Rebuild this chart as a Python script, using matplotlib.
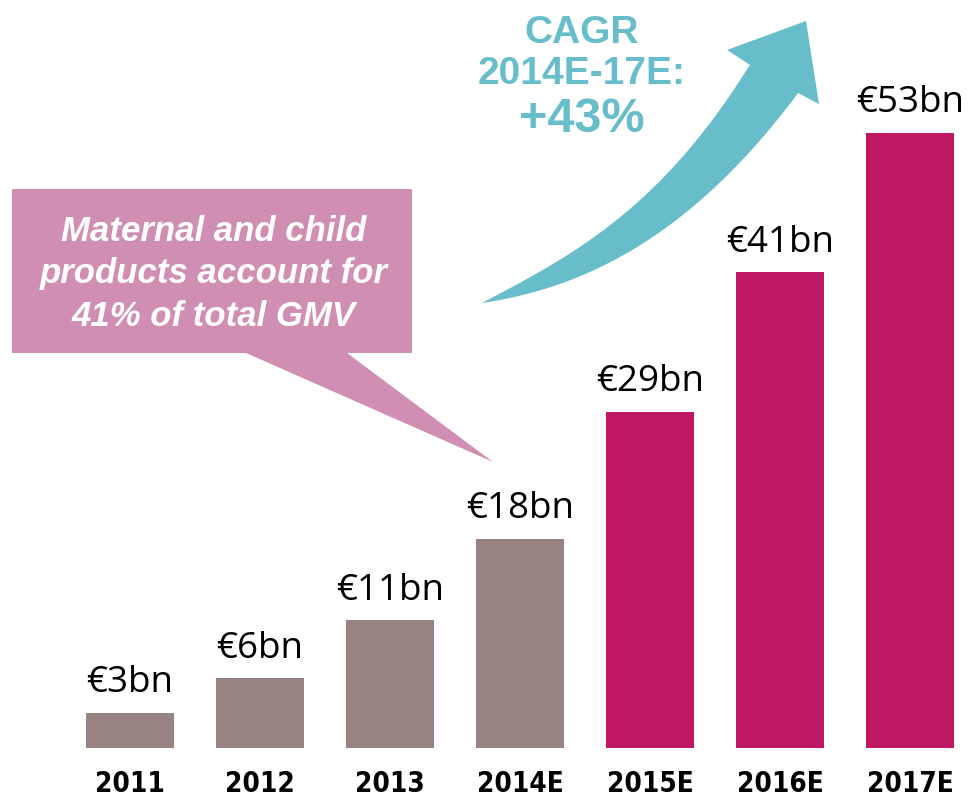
import matplotlib
matplotlib.use("Agg")
import numpy as np
import matplotlib.pyplot as plt
from matplotlib.patches import Polygon

years = ["2011", "2012", "2013", "2014E", "2015E", "2016E", "2017E"]
values = [3, 6, 11, 18, 29, 41, 53]
labels = ["€3bn", "€6bn", "€11bn", "€18bn", "€29bn", "€41bn", "€53bn"]
actual_color = "#978482"
forecast_color = "#BE1862"
colors = [actual_color] * 4 + [forecast_color] * 3

W, H = 968, 801
fig = plt.figure(figsize=(W / 100, H / 100), dpi=100)

# main bar axes
base_px = 53
ax = fig.add_axes([0, base_px / H, 1, (H - base_px) / H])
px_per_unit = 11.6
ax.set_ylim(0, (H - base_px) / px_per_unit)
ax.set_xlim(-1, (W - 130) / 130)
xs = list(range(len(years)))
ax.bar(xs, values, width=0.677, color=colors)
for x, v, lab in zip(xs, values, labels):
    ax.annotate(lab, (x, v), xytext=(0, 15), textcoords="offset points",
                ha="center", va="baseline", fontsize=26.5, family="Open Sans",
                color="black")
ax.set_xticks(xs)
ax.set_xticklabels(years, fontsize=20, fontweight="bold",
                   family="DejaVu Sans", fontstretch="condensed")
ax.tick_params(axis="x", length=0, pad=16)
ax.set_yticks([])
for s in ax.spines.values():
    s.set_visible(False)
ax.patch.set_alpha(0)

# overlay axes in pixel coords for annotations
ov = fig.add_axes([0, 0, 1, 1])
ov.set_xlim(0, W)
ov.set_ylim(H, 0)
ov.axis("off")
ov.patch.set_alpha(0)

# callout box
callout = Polygon([(12, 189), (412, 189), (412, 353), (347, 353), (493, 462),
                   (246, 353), (12, 353)], closed=True,
                  facecolor="#D08FB2", edgecolor="none")
ov.add_patch(callout)
for line, yb in zip(["Maternal and child", "products account for",
                     "41% of total GMV"], [241, 283, 326]):
    ov.text(214, yb, line, ha="center", va="baseline", color="white",
            fontsize=25, fontweight="bold", fontstyle="italic",
            family="Liberation Sans")

# curved arrow (edges smoothed by a cubic fit)
up_pts = np.array([(482, 303), (537, 273), (600, 233), (617, 220), (650, 190),
                   (683, 157), (710, 123), (733, 90), (750, 65)], float)
lo_pts = np.array([(482, 303), (570, 280), (633, 250), (667, 227), (700, 200),
                   (733, 170), (760, 140), (780, 117), (798, 93)], float)


def edge(pts):
    c = np.polyfit(pts[:, 0], pts[:, 1], 3)
    xx = np.linspace(pts[0, 0], pts[-1, 0], 80)
    yy = np.polyval(c, xx)
    yy[0], yy[-1] = pts[0, 1], pts[-1, 1]
    return np.column_stack([xx, yy])


upper = edge(up_pts)
lower = edge(lo_pts)
head = np.array([(727, 50), (806, 21), (819, 104)], float)
arrow_pts = np.vstack([upper, head, lower[::-1]])
ov.add_patch(Polygon(arrow_pts, closed=True, facecolor="#68BDCA",
                     edgecolor="none"))

teal = "#68BDCA"
ov.text(582, 43, "CAGR", ha="center", va="baseline", color=teal,
        fontsize=28, fontweight="bold", family="Liberation Sans")
ov.text(582, 84, "2014E-17E:", ha="center", va="baseline", color=teal,
        fontsize=28, fontweight="bold", family="Liberation Sans")
ov.text(582, 132, "+43%", ha="center", va="baseline", color=teal,
        fontsize=35, fontweight="bold", family="Liberation Sans")

fig.savefig("out.png", dpi=100)
